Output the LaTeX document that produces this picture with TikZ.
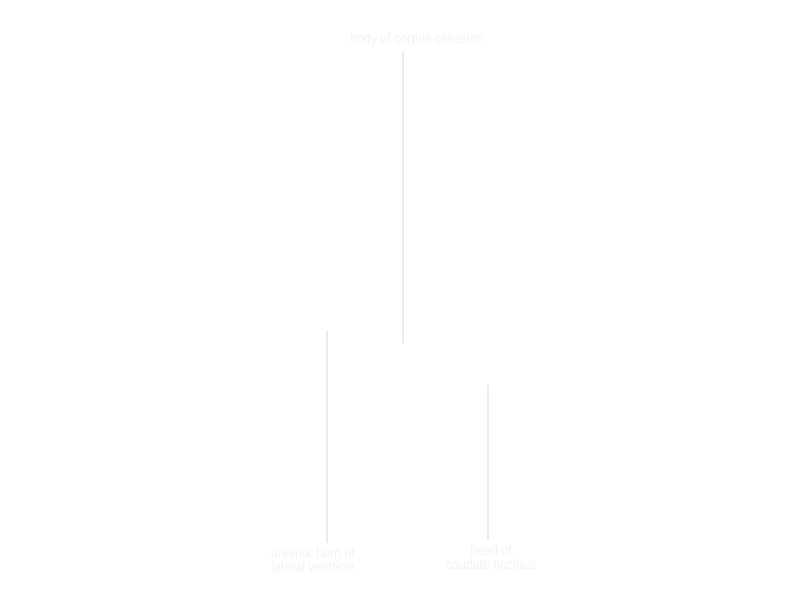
\documentclass[tikz,border=0pt]{standalone}
\usepackage{fontspec}
\setmainfont{Liberation Sans}[FakeStretch=0.86]
\usepackage{xcolor}
\usetikzlibrary{positioning}
\definecolor{labelgray}{HTML}{F2F2F2}
\definecolor{leadgray}{HTML}{EBEBEB}

\begin{document}
\begin{tikzpicture}[font=\fontsize{10.2}{10.2}\selectfont]
\tikzset{
  label/.style={text=labelgray, align=center, inner sep=1pt},
  leader/.style={draw=leadgray, line width=0.9pt}
}
\useasboundingbox (0,0) rectangle (20,15);
% labels
\node[label] (body) at (10.425, 14.0) {body of corpus callosum};
\node[label] (horn) at (7.825, 1.02) {anterior horn of\\lateral ventricle};
\node[label] (caudate) at (12.275, 1.07) {head of\\caudate nucleus};
% leader ends
\coordinate (bodytop) at (10.075, 13.7);
\coordinate (bodyend) at (10.075, 6.425);
\coordinate (hornend) at (8.175, 6.725);
\coordinate (horntop) at (8.175, 1.425);
\coordinate (caudateend) at (12.2, 5.375);
\coordinate (caudatetop) at (12.2, 1.5);
\draw[leader] (bodytop) -- (bodyend);
\draw[leader] (hornend) -- (horntop);
\draw[leader] (caudateend) -- (caudatetop);
\end{tikzpicture}
\end{document}
